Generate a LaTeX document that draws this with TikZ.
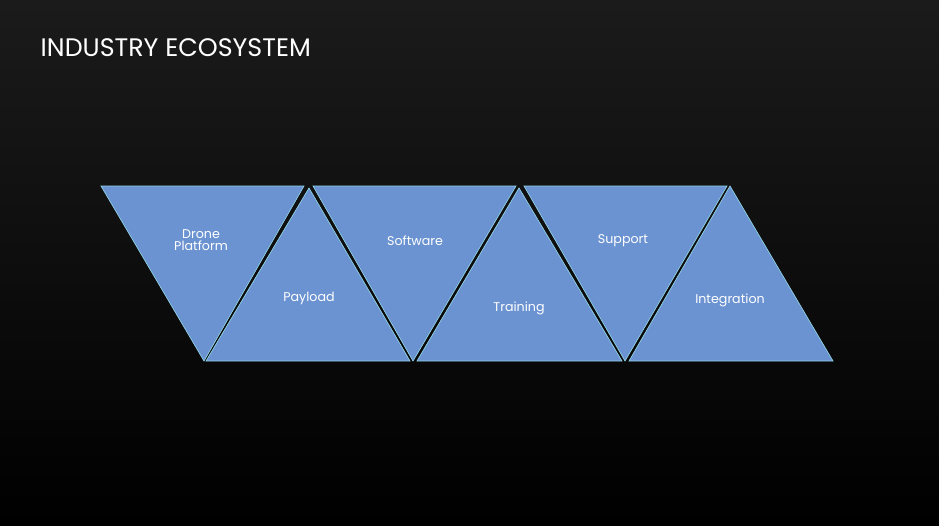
\documentclass[tikz,border=0pt]{standalone}
\usepackage{fontspec}
\setmainfont{Poppins}
\definecolor{tri}{HTML}{6C93D1}
\definecolor{triedge}{HTML}{8FD3E6}
\definecolor{bgtop}{HTML}{1B1B1B}
\tikzset{
  triangle/.style={fill=tri, draw=triedge, line width=0.5pt},
  lbl/.style={text=white, font=\fontsize{9.5}{10.5}\selectfont, align=center}
}
\begin{document}
\begin{tikzpicture}[x=0.75pt,y=0.75pt,yscale=-1,xscale=1]
%background
\shade [top color=bgtop, bottom color=black] (0,0) rectangle (939,525);
\useasboundingbox (0,0) rectangle (939,525);

%title
\node (title) [anchor=west, text=white, font=\fontsize{19}{22}\selectfont] at (36,48) {INDUSTRY ECOSYSTEM};

%down triangles
\draw [triangle] (101,186) -- (304,186) -- (204,361) -- cycle;
\draw [triangle] (313,186) -- (516,186) -- (413,361) -- cycle;
\draw [triangle] (524,186) -- (727,186) -- (625,361) -- cycle;
%up triangles
\draw [triangle] (206,361) -- (410,361) -- (309,188) -- cycle;
\draw [triangle] (417,361) -- (622,361) -- (519,188) -- cycle;
\draw [triangle] (629,361) -- (833,361) -- (730,186) -- cycle;

%labels
\node (drone) [lbl] at (201,240) {Drone\\[-2pt]Platform};
\node (payload) [lbl] at (309,298) {Payload};
\node (software) [lbl] at (415,241) {Software};
\node (training) [lbl] at (519,308) {Training};
\node (support) [lbl] at (623,241) {Support};
\node (integration) [lbl] at (730,300) {Integration};

\end{tikzpicture}
\end{document}
